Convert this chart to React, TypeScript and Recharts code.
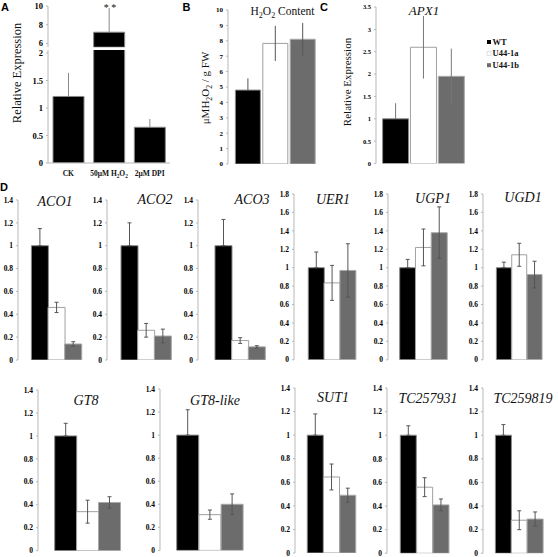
import { BarChart, Bar, XAxis, YAxis, ErrorBar, Cell } from 'recharts'

const SERIF = '"Liberation Serif", "Times New Roman", serif'
const SANS = '"Liberation Sans", Arial, sans-serif'
const AXIS = '#b8b8b8'

// ==================== Data ====================

const GENOTYPES = ['WT', 'U44-1a', 'U44-1b']
const GENO_FILL = ['#000000', '#ffffff', '#6c6c6c']
const GENO_STROKE = ['#8a8a8a', '#a0a0a0', '#a9a9a9']

// A: relative expression under treatments (broken axis 0-2 / 6-10)
const A_TREATMENTS = ['CK', '50μM H2O2', '2μM DPI']
const A_VALUES = [1.21, 7.2, 0.65]
const A_ERR_UP = [0.43, 2.6, 0.15]
const A_TICKS_LOW = [0, 0.5, 1, 1.5, 2]
const A_TICKS_HIGH = [6, 8, 10]

// B: H2O2 content
const B_VALUES = [4.8, 7.83, 8.1]
const B_ERR = [0.76, 1.14, 1.06]
const B_TICKS = [0, 1, 2, 3, 4, 5, 6, 7, 8, 9, 10]

// C: APX1
const C_VALUES = [1.0, 2.6, 1.95]
const C_ERR = [0.35, 0.7, 0.62]
const C_TICKS = [0, 0.5, 1, 1.5, 2, 2.5, 3, 3.5]

// D: gene panels
const D_GENES = ['ACO1', 'ACO2', 'ACO3', 'UER1', 'UGP1', 'UGD1', 'GT8', 'GT8-like', 'SUT1', 'TC257931', 'TC259819']
const D_VALUES = [
  [1, 0.46, 0.14],
  [1, 0.26, 0.21],
  [1, 0.17, 0.115],
  [1, 0.835, 0.97],
  [1, 1.22, 1.38],
  [1, 1.14, 0.925],
  [1, 0.34, 0.42],
  [1, 0.31, 0.4],
  [1, 0.645, 0.49],
  [1, 0.56, 0.41],
  [1, 0.28, 0.29],
]
const D_ERRORS = [
  [0.15, 0.045, 0.02],
  [0.2, 0.06, 0.06],
  [0.23, 0.025, 0.01],
  [0.17, 0.19, 0.29],
  [0.09, 0.2, 0.28],
  [0.06, 0.125, 0.145],
  [0.11, 0.1, 0.05],
  [0.22, 0.04, 0.09],
  [0.18, 0.11, 0.06],
  [0.08, 0.08, 0.05],
  [0.09, 0.08, 0.06],
]
const TICKS_14 = [0, 0.2, 0.4, 0.6, 0.8, 1, 1.2, 1.4]
const TICKS_18 = [0, 0.2, 0.4, 0.6, 0.8, 1, 1.2, 1.4, 1.6, 1.8]

// ==================== Layout (page px) ====================

type Box = { x0: number; x1: number; yTop: number; yBot: number; padL: number; padR: number }

const D_BOXES: Box[] = [
  { x0: 18.3, x1: 89, yTop: 199.7, yBot: 359.7, padL: 13.4, padR: 7.3 },
  { x0: 106.7, x1: 181.7, yTop: 199.7, yBot: 359.7, padL: 14, padR: 11 },
  { x0: 198, x1: 276.7, yTop: 199.7, yBot: 359.7, padL: 17, padR: 11.7 },
  { x0: 294, x1: 366.7, yTop: 194.3, yBot: 360.1, padL: 14.3, padR: 11 },
  { x0: 388.3, x1: 460, yTop: 194.3, yBot: 360.1, padL: 11.7, padR: 12.7 },
  { x0: 483.3, x1: 555, yTop: 194.3, yBot: 360.1, padL: 13.4, padR: 12.3 },
  { x0: 38.3, x1: 138, yTop: 390, yBot: 550.7, padL: 16.7, padR: 17.3 },
  { x0: 160, x1: 263, yTop: 389.3, yBot: 550.7, padL: 16.7, padR: 19.7 },
  { x0: 295, x1: 366.7, yTop: 387.7, yBot: 552.7, padL: 12.3, padR: 10.7 },
  { x0: 386.7, x1: 460, yTop: 387.7, yBot: 553, padL: 13.3, padR: 11 },
  { x0: 483.3, x1: 555, yTop: 387.7, yBot: 553, padL: 12.4, padR: 11.7 },
]
const D_TITLE_POS = [
  [55, 205.5], [155, 203.5], [252, 203.5], [333, 204], [433, 203], [523, 201.5],
  [86, 405], [215, 405], [333, 401.5], [428, 403], [523, 403],
]

// ==================== Helpers ====================

// splits "H2O2" style text into tspans with subscript digits
function chem(text: string, size: number) {
  const out: any[] = []
  let low = false
  text.split('').forEach((ch, i) => {
    const sub = /[0-9]/.test(ch) && i > 0 && /[HO]/.test(text[i - 1])
    let dy = 0
    if (sub && !low) { dy = size * 0.28; low = true }
    if (!sub && low) { dy = -size * 0.28; low = false }
    out.push(
      <tspan key={i} dy={dy || undefined} fontSize={sub ? size * 0.7 : size}>{ch}</tspan>
    )
  })
  return out
}

type Row = { name: string; value: number | null; err: [number, number] | null; fill: string; stroke: string }

interface MiniProps {
  box: Box
  rows: Row[]
  domain: [number, number]
  ticks: number[]
  gap: number
  capWidth: number
  errStroke: string
  tickSize: number
  hideXLine?: boolean
  xTick?: any
  xHeight?: number
}

function MiniBars({ box, rows, domain, ticks, gap, capWidth, errStroke, tickSize, hideXLine, xTick, xHeight = 0 }: MiniProps) {
  const YW = 34
  const T = 6
  const B = 6
  const width = YW + (box.x1 - box.x0) + 2
  const height = T + (box.yBot - box.yTop) + xHeight + B
  return (
    <div style={{ position: 'absolute', left: box.x0 - YW, top: box.yTop - T }}>
      <BarChart width={width} height={height} data={rows} margin={{ top: T, right: 2, bottom: B, left: 0 }} barCategoryGap={gap}>
        <XAxis
          dataKey="name"
          height={xHeight}
          padding={{ left: box.padL, right: box.padR }}
          axisLine={hideXLine ? false : { stroke: AXIS }}
          tickLine={false}
          tickSize={0}
          tick={xTick ?? false}
          interval={0}
        />
        <YAxis
          width={YW}
          type="number"
          domain={domain}
          ticks={ticks}
          allowDataOverflow
          interval={0}
          axisLine={{ stroke: AXIS }}
          tickLine={{ stroke: AXIS }}
          tickSize={2}
          tickMargin={3}
          tick={{ fontSize: tickSize, fontFamily: SERIF, fontWeight: 'bold', fill: '#000' }}
        />
        <Bar dataKey="value" isAnimationActive={false}>
          {rows.map((r, i) => <Cell key={i} fill={r.fill} stroke={r.stroke} strokeWidth={1} />)}
          <ErrorBar dataKey="err" width={capWidth} stroke={errStroke} strokeWidth={1} direction="y" />
        </Bar>
      </BarChart>
    </div>
  )
}

function genoRows(values: number[], errs: number[]): Row[] {
  // WT error bar is plus-only (hidden inside the black bar)
  return GENOTYPES.map((g, i) => ({
    name: g,
    value: values[i],
    err: [i === 0 ? 0 : errs[i], errs[i]] as [number, number],
    fill: GENO_FILL[i],
    stroke: GENO_STROKE[i],
  }))
}

function TreatmentTick({ x, y, payload }: any) {
  return (
    <text x={x} y={y + 11} textAnchor="middle" fontFamily={SERIF} fontWeight="bold" fill="#111" fontSize={7.5}>
      {chem(String(payload.value), 7.5)}
    </text>
  )
}

// ==================== Figure ====================

const A_BREAK = 2.055

export default function App() {
  const aLow: Row[] = A_TREATMENTS.map((t, i) => ({
    name: t,
    value: A_VALUES[i],
    err: A_VALUES[i] > A_BREAK ? [0, 0] : [0, A_ERR_UP[i]],
    fill: '#000', stroke: '#888',
  }))
  const aHigh: Row[] = A_TREATMENTS.map((t, i) => ({
    name: t,
    value: A_VALUES[i] > A_BREAK ? A_VALUES[i] : null,
    err: A_VALUES[i] > A_BREAK ? [0, A_ERR_UP[i]] : null,
    fill: '#000', stroke: '#888',
  }))

  return (
    <div style={{ position: 'absolute', left: 0, top: 0, width: 558, height: 557, background: '#fff', overflow: 'hidden' }}>
      {/* A */}
      <MiniBars box={{ x0: 48, x1: 170, yTop: 5.5, yBot: 46.7, padL: 0, padR: 0 }} rows={aHigh}
        domain={[5.6, 10]} ticks={A_TICKS_HIGH} gap={5} capWidth={0} errStroke="#8a8a8a" tickSize={8.5} hideXLine />
      <MiniBars box={{ x0: 48, x1: 170, yTop: 50, yBot: 163, padL: 0, padR: 0 }} rows={aLow}
        domain={[0, A_BREAK]} ticks={A_TICKS_LOW} gap={5} capWidth={0} errStroke="#8a8a8a" tickSize={8.5}
        xTick={<TreatmentTick />} xHeight={14} />

      {/* B */}
      <MiniBars box={{ x0: 227.7, x1: 317, yTop: 10, yBot: 164, padL: 6.4, padR: 0.7 }}
        rows={genoRows(B_VALUES, B_ERR)}
        domain={[0, 10]} ticks={B_TICKS} gap={1} capWidth={0} errStroke="#555" tickSize={7} />

      {/* C */}
      <MiniBars box={{ x0: 376, x1: 466.7, yTop: 6.7, yBot: 163.3, padL: 5.6, padR: 1.5 }}
        rows={genoRows(C_VALUES, C_ERR)}
        domain={[0, 3.5]} ticks={C_TICKS} gap={1} capWidth={0} errStroke="#777" tickSize={6.5} />

      {/* D */}
      {D_GENES.map((g, k) => (
        <MiniBars key={g} box={D_BOXES[k]} rows={genoRows(D_VALUES[k], D_ERRORS[k])}
          domain={[0, k >= 3 && k <= 5 ? 1.8 : 1.4]} ticks={k >= 3 && k <= 5 ? TICKS_18 : TICKS_14}
          gap={0} capWidth={2} errStroke="#555" tickSize={7.5} />
      ))}

      {/* text overlay */}
      <svg width={558} height={557} style={{ position: 'absolute', left: 0, top: 0, pointerEvents: 'none' }}>
        <g fontFamily={SANS} fontWeight="bold" fontSize={11} fill="#000">
          <text x={1} y={10.7}>A</text>
          <text x={182.5} y={10.5}>B</text>
          <text x={320} y={11}>C</text>
          <text x={0} y={191}>D</text>
        </g>
        <g fontFamily={SERIF} fill="#111">
          <text x={110} y={11} textAnchor="middle" fontSize={10}>* *</text>
          <text transform="translate(21,73) rotate(-90)" textAnchor="middle" fontSize={12.5}>Relative Expression</text>
          <text transform="translate(209,88) rotate(-90)" textAnchor="middle" fontSize={11}>{chem('μMH2O2 / g FW', 11)}</text>
          <text x={282.5} y={14.5} textAnchor="middle" fontSize={11.5}>{chem('H2O2 Content', 11.5)}</text>
          <text x={424} y={15} textAnchor="middle" fontSize={13} fontStyle="italic">APX1</text>
          <text transform="translate(351,82) rotate(-90)" textAnchor="middle" fontSize={11}>Relative Expression</text>
          {D_GENES.map((g, k) => (
            <text key={g} x={D_TITLE_POS[k][0]} y={D_TITLE_POS[k][1]} textAnchor="middle" fontSize={14} fontStyle="italic">{g}</text>
          ))}
        </g>
        <g fontFamily={SERIF} fontWeight="bold" fontSize={8.5} fill="#111">
          {GENOTYPES.map((g, i) => (
            <g key={g}>
              <rect x={487} y={40 + i * 11.6} width={4} height={4} fill={GENO_FILL[i]} stroke={i === 1 ? '#ccc' : 'none'} strokeWidth={0.6} />
              <text x={492.5} y={44.5 + i * 11.6}>{g}</text>
            </g>
          ))}
        </g>
      </svg>
    </div>
  )
}
